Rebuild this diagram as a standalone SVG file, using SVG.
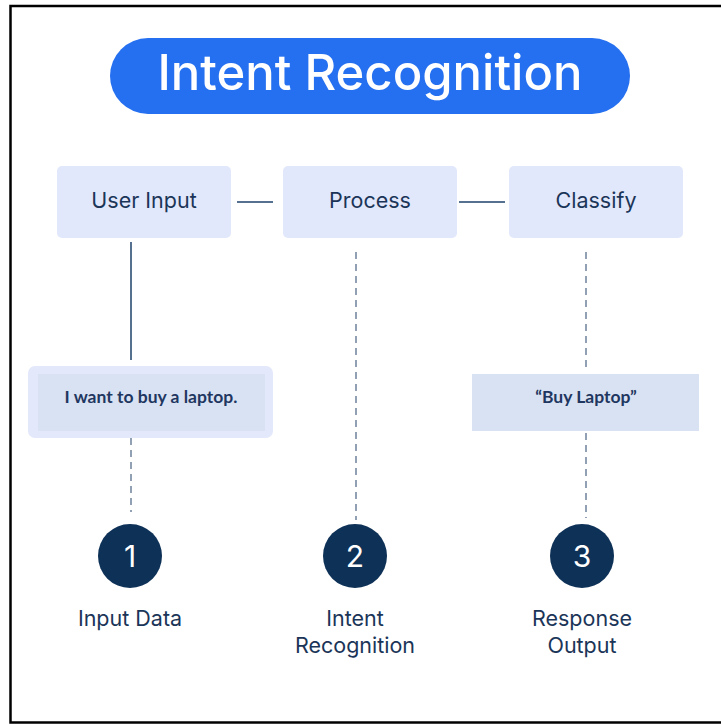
<svg xmlns="http://www.w3.org/2000/svg" width="721" height="725" viewBox="0 0 721 725">
  <style>
    .step { fill: #e2e8fb; }
    .lbl { font-family: Inter, "Noto Sans", sans-serif; fill: #1b3558; text-anchor: middle; font-size: 21.5px; }
    .note { font-family: Lato, "Open Sans", sans-serif; font-weight: bold; fill: #1f3760; text-anchor: middle; font-size: 17.5px; }
    .num { fill: #0e3157; }
    .numtxt { font-family: Inter, "Noto Sans", sans-serif; fill: #ffffff; text-anchor: middle; font-size: 30px; }
    .solid { stroke: #56708f; stroke-width: 2; fill: none; }
    .dash { stroke: #6d8199; stroke-width: 1.5; stroke-dasharray: 7 5; fill: none; }
  </style>
  <rect width="721" height="725" fill="#ffffff"/>
  <!-- frame: open on the right -->
  <path d="M721 6 H10.5 V722.5 H721" fill="none" stroke="#000000" stroke-width="2.5"/>

  <g id="title">
    <rect x="110" y="38" width="520" height="76" rx="38" fill="#2570f0"/>
    <text x="370" y="90" font-family="Inter, 'Noto Sans', sans-serif" font-size="49" font-weight="500" fill="#ffffff" text-anchor="middle">Intent Recognition</text>
  </g>

  <g id="connectors">
    <line class="solid" x1="237" y1="202" x2="273" y2="202"/>
    <line class="solid" x1="459" y1="202" x2="505" y2="202"/>
    <line class="solid" x1="131" y1="242" x2="131" y2="360"/>
    <line class="dash" x1="131" y1="438" x2="131" y2="512"/>
    <line class="dash" x1="356" y1="252" x2="356" y2="520"/>
    <line class="dash" x1="586" y1="252" x2="586" y2="372"/>
    <line class="dash" x1="586" y1="433" x2="586" y2="518"/>
  </g>

  <g id="user-input">
    <rect class="step" x="57" y="166" width="174" height="72" rx="5"/>
    <text class="lbl" x="144" y="208">User Input</text>
  </g>
  <g id="process">
    <rect class="step" x="283" y="166" width="174" height="72" rx="5"/>
    <text class="lbl" x="370" y="208">Process</text>
  </g>
  <g id="classify">
    <rect class="step" x="509" y="166" width="174" height="72" rx="5"/>
    <text class="lbl" x="596" y="208">Classify</text>
  </g>

  <g id="utterance">
    <rect x="28" y="366" width="245" height="72" rx="7" fill="#e3e8fb"/>
    <rect x="38" y="374" width="227" height="57" fill="#d9e2f3"/>
    <text class="note" x="151" y="403">I want to buy a laptop.</text>
  </g>

  <g id="intent-result">
    <rect x="472" y="374" width="227" height="57" fill="#d9e2f3"/>
    <text class="note" x="586" y="403">“Buy Laptop”</text>
  </g>

  <g id="step-1">
    <circle class="num" cx="130" cy="556" r="32"/>
    <text class="numtxt" x="130" y="567">1</text>
    <text class="lbl" x="130" y="626">Input Data</text>
  </g>
  <g id="step-2">
    <circle class="num" cx="355" cy="556" r="32"/>
    <text class="numtxt" x="355" y="567">2</text>
    <text class="lbl" x="355" y="626">Intent</text>
    <text class="lbl" x="355" y="653">Recognition</text>
  </g>
  <g id="step-3">
    <circle class="num" cx="582" cy="556" r="32"/>
    <text class="numtxt" x="582" y="567">3</text>
    <text class="lbl" x="582" y="626">Response</text>
    <text class="lbl" x="582" y="653">Output</text>
  </g>
</svg>
